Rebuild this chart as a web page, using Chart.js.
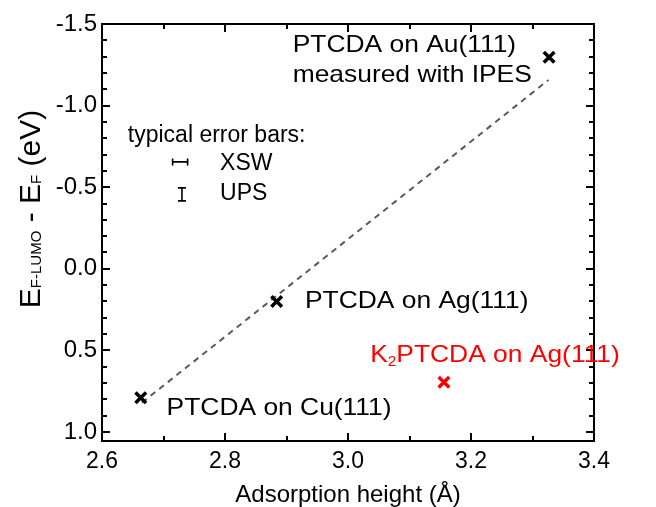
<!DOCTYPE html>
<html>
<head>
<meta charset="utf-8">
<script src="https://cdn.jsdelivr.net/npm/chart.js@4/dist/chart.umd.min.js"></script>
<style>
html,body{margin:0;padding:0;background:#fff;}
canvas{display:block;}
</style>
</head>
<body>
<canvas id="c" width="656" height="507"></canvas>
<script>
// ---- data ----
const pointLabels = ['PTCDA on Cu(111)', 'PTCDA on Ag(111)', 'PTCDA on Au(111)'];
const heights = [2.663, 2.884, 3.327];        // adsorption height (Å)
const energies = [0.79, 0.20, -1.296];        // E_F-LUMO - E_F (eV)
const k2Heights = [3.156];
const k2Energies = [0.695];
const fitHeights = [2.665, 3.326];
const fitEnergies = [0.82, -1.157];
const xTickValues = [2.6, 2.8, 3.0, 3.2, 3.4];
const yTickValues = [-1.5, -1.0, -0.5, 0.0, 0.5, 1.0];
// typical error bars (centre, half-size)
const xswErr = [2.727, -0.655, 0.0122];
const upsErr = [2.730, -0.456, 0.040];

const FONT = '"Liberation Sans", Arial, Helvetica, sans-serif';

function pts(xs, ys) { return xs.map((x, i) => ({x: x, y: ys[i]})); }

// label anchors in data coordinates (left edge, baseline)
const textLabels = [
  {x: 2.910, y: -1.328, text: 'PTCDA on Au(111)', color: '#000', size: 24, sx: 1.1},
  {x: 2.910, y: -1.144, text: 'measured with IPES', color: '#000', size: 24, sx: 1.1},
  {x: 2.642, y: -0.777, text: 'typical error bars:', color: '#000', size: 23, sx: 1},
  {x: 2.792, y: -0.606, text: 'XSW', color: '#000', size: 23, sx: 1},
  {x: 2.792, y: -0.422, text: 'UPS', color: '#000', size: 23, sx: 1},
  {x: 2.930, y: 0.239, text: 'PTCDA on Ag(111)', color: '#000', size: 24, sx: 1.1},
  {x: 2.705, y: 0.894, text: 'PTCDA on Cu(111)', color: '#000', size: 24, sx: 1.1},
  {x: 3.036, y: 0.569, text: 'K', sub: '2', rest: 'PTCDA on Ag(111)', color: '#ff0000', size: 24, sx: 1.1}
];

const framePlugin = {
  id: 'frame',
  afterDatasetsDraw(chart) {
    const ctx = chart.ctx;
    const a = chart.chartArea;
    const xs = chart.scales.x, ys = chart.scales.y;
    ctx.save();
    ctx.strokeStyle = '#000';
    ctx.lineWidth = 2;
    ctx.strokeRect(a.left, a.top, a.right - a.left, a.bottom - a.top);
    // ticks inward on all four sides
    ctx.beginPath();
    for (let k = 0; k <= 8; k++) {
      const v = 2.6 + k * 0.1;
      const px = Math.round(xs.getPixelForValue(v));
      const len = (k % 2 === 0) ? 8 : 5;
      ctx.moveTo(px, a.bottom); ctx.lineTo(px, a.bottom - len);
      ctx.moveTo(px, a.top); ctx.lineTo(px, a.top + len);
    }
    for (let k = 0; k <= 25; k++) {
      const v = -1.5 + k * 0.1;
      const py = Math.round(ys.getPixelForValue(v));
      const len = (k % 5 === 0) ? 8 : 5;
      ctx.moveTo(a.left, py); ctx.lineTo(a.left + len, py);
      ctx.moveTo(a.right, py); ctx.lineTo(a.right - len, py);
    }
    ctx.stroke();

    // error bar glyphs
    ctx.lineWidth = 1.6;
    ctx.beginPath();
    let cx = xs.getPixelForValue(xswErr[0]), cy = ys.getPixelForValue(xswErr[1]);
    let x1 = xs.getPixelForValue(xswErr[0] - xswErr[2]), x2 = xs.getPixelForValue(xswErr[0] + xswErr[2]);
    ctx.moveTo(x1, cy); ctx.lineTo(x2, cy);
    ctx.moveTo(x1, cy - 3.5); ctx.lineTo(x1, cy + 3.5);
    ctx.moveTo(x2, cy - 3.5); ctx.lineTo(x2, cy + 3.5);
    cx = xs.getPixelForValue(upsErr[0]); cy = ys.getPixelForValue(upsErr[1]);
    let y1 = ys.getPixelForValue(upsErr[1] - upsErr[2]), y2 = ys.getPixelForValue(upsErr[1] + upsErr[2]);
    ctx.moveTo(cx, y1); ctx.lineTo(cx, y2);
    ctx.moveTo(cx - 4, y1); ctx.lineTo(cx + 4, y1);
    ctx.moveTo(cx - 4, y2); ctx.lineTo(cx + 4, y2);
    ctx.stroke();

    // annotation texts
    ctx.textBaseline = 'alphabetic';
    ctx.textAlign = 'left';
    textLabels.forEach(l => {
      const px = xs.getPixelForValue(l.x), py = ys.getPixelForValue(l.y);
      ctx.save();
      ctx.translate(px, py);
      ctx.scale(l.sx, 1);
      ctx.fillStyle = l.color;
      ctx.font = l.size + 'px ' + FONT;
      ctx.fillText(l.text, 0, 0);
      if (l.sub) {
        let ox = ctx.measureText(l.text).width;
        ctx.font = '14px ' + FONT;
        ctx.fillText(l.sub, ox, 4);
        ox += ctx.measureText(l.sub).width;
        ctx.font = l.size + 'px ' + FONT;
        ctx.fillText(l.rest, ox, 0);
      }
      ctx.restore();
    });

    // axis titles
    ctx.fillStyle = '#000';
    ctx.font = '24px ' + FONT;
    ctx.textAlign = 'center';
    ctx.fillText('Adsorption height (\u00C5)', (a.left + a.right) / 2, 502);

    // y title, rotated, with subscripts
    const parts = [
      ['E', 30, 0], ['F-LUMO', 15, 1], [' - E', 30, 0], ['F', 15, 1], [' (eV)', 30, 0]
    ];
    ctx.textAlign = 'left';
    let total = 0;
    parts.forEach(p => { ctx.font = p[1] + 'px ' + FONT; total += ctx.measureText(p[0]).width; });
    ctx.translate(40, 209);
    ctx.rotate(-Math.PI / 2);
    let tx = -total / 2;
    parts.forEach(p => {
      ctx.font = p[1] + 'px ' + FONT;
      ctx.fillText(p[0], tx, p[2] ? 1 : 0);
      tx += ctx.measureText(p[0]).width;
    });
    ctx.restore();
  }
};

new Chart(document.getElementById('c'), {
  data: {
    datasets: [
      {
        type: 'line',
        data: pts(fitHeights, fitEnergies),
        borderColor: '#5a5a5a',
        borderWidth: 2,
        borderDash: [6, 5],
        pointRadius: 0,
        fill: false,
        order: 3
      },
      {
        type: 'scatter',
        label: 'PTCDA',
        data: pts(heights, energies),
        pointStyle: 'crossRot',
        pointRadius: 7.5,
        borderWidth: 3.5,
        borderColor: '#000',
        backgroundColor: '#000',
        order: 1
      },
      {
        type: 'scatter',
        label: 'K2PTCDA',
        data: pts(k2Heights, k2Energies),
        pointStyle: 'crossRot',
        pointRadius: 7.5,
        borderWidth: 3.5,
        borderColor: '#ff0000',
        backgroundColor: '#ff0000',
        order: 1
      }
    ]
  },
  options: {
    responsive: false,
    animation: false,
    events: [],
    layout: {padding: {top: 24, right: 62, left: 0, bottom: 0}},
    plugins: {legend: {display: false}, tooltip: {enabled: false}},
    scales: {
      x: {
        type: 'linear',
        min: 2.6, max: 3.4,
        grid: {display: false, drawTicks: false},
        border: {display: false},
        afterBuildTicks: s => { s.ticks = xTickValues.map(v => ({value: v})); },
        afterFit: s => { s.height = 66; },
        ticks: {
          padding: 7,
          color: '#000',
          font: {size: 23, family: FONT},
          maxRotation: 0,
          callback: v => Number(v).toFixed(1)
        }
      },
      y: {
        type: 'linear',
        reverse: true,
        min: -1.5, max: 1.055,
        grid: {display: false, drawTicks: false},
        border: {display: false},
        afterBuildTicks: s => { s.ticks = yTickValues.map(v => ({value: v})); },
        afterFit: s => { s.width = 102; },
        ticks: {
          padding: 5,
          color: '#000',
          font: {size: 24, family: FONT},
          callback: v => Number(v).toFixed(1)
        }
      }
    }
  },
  plugins: [framePlugin]
});
</script>
</body>
</html>
